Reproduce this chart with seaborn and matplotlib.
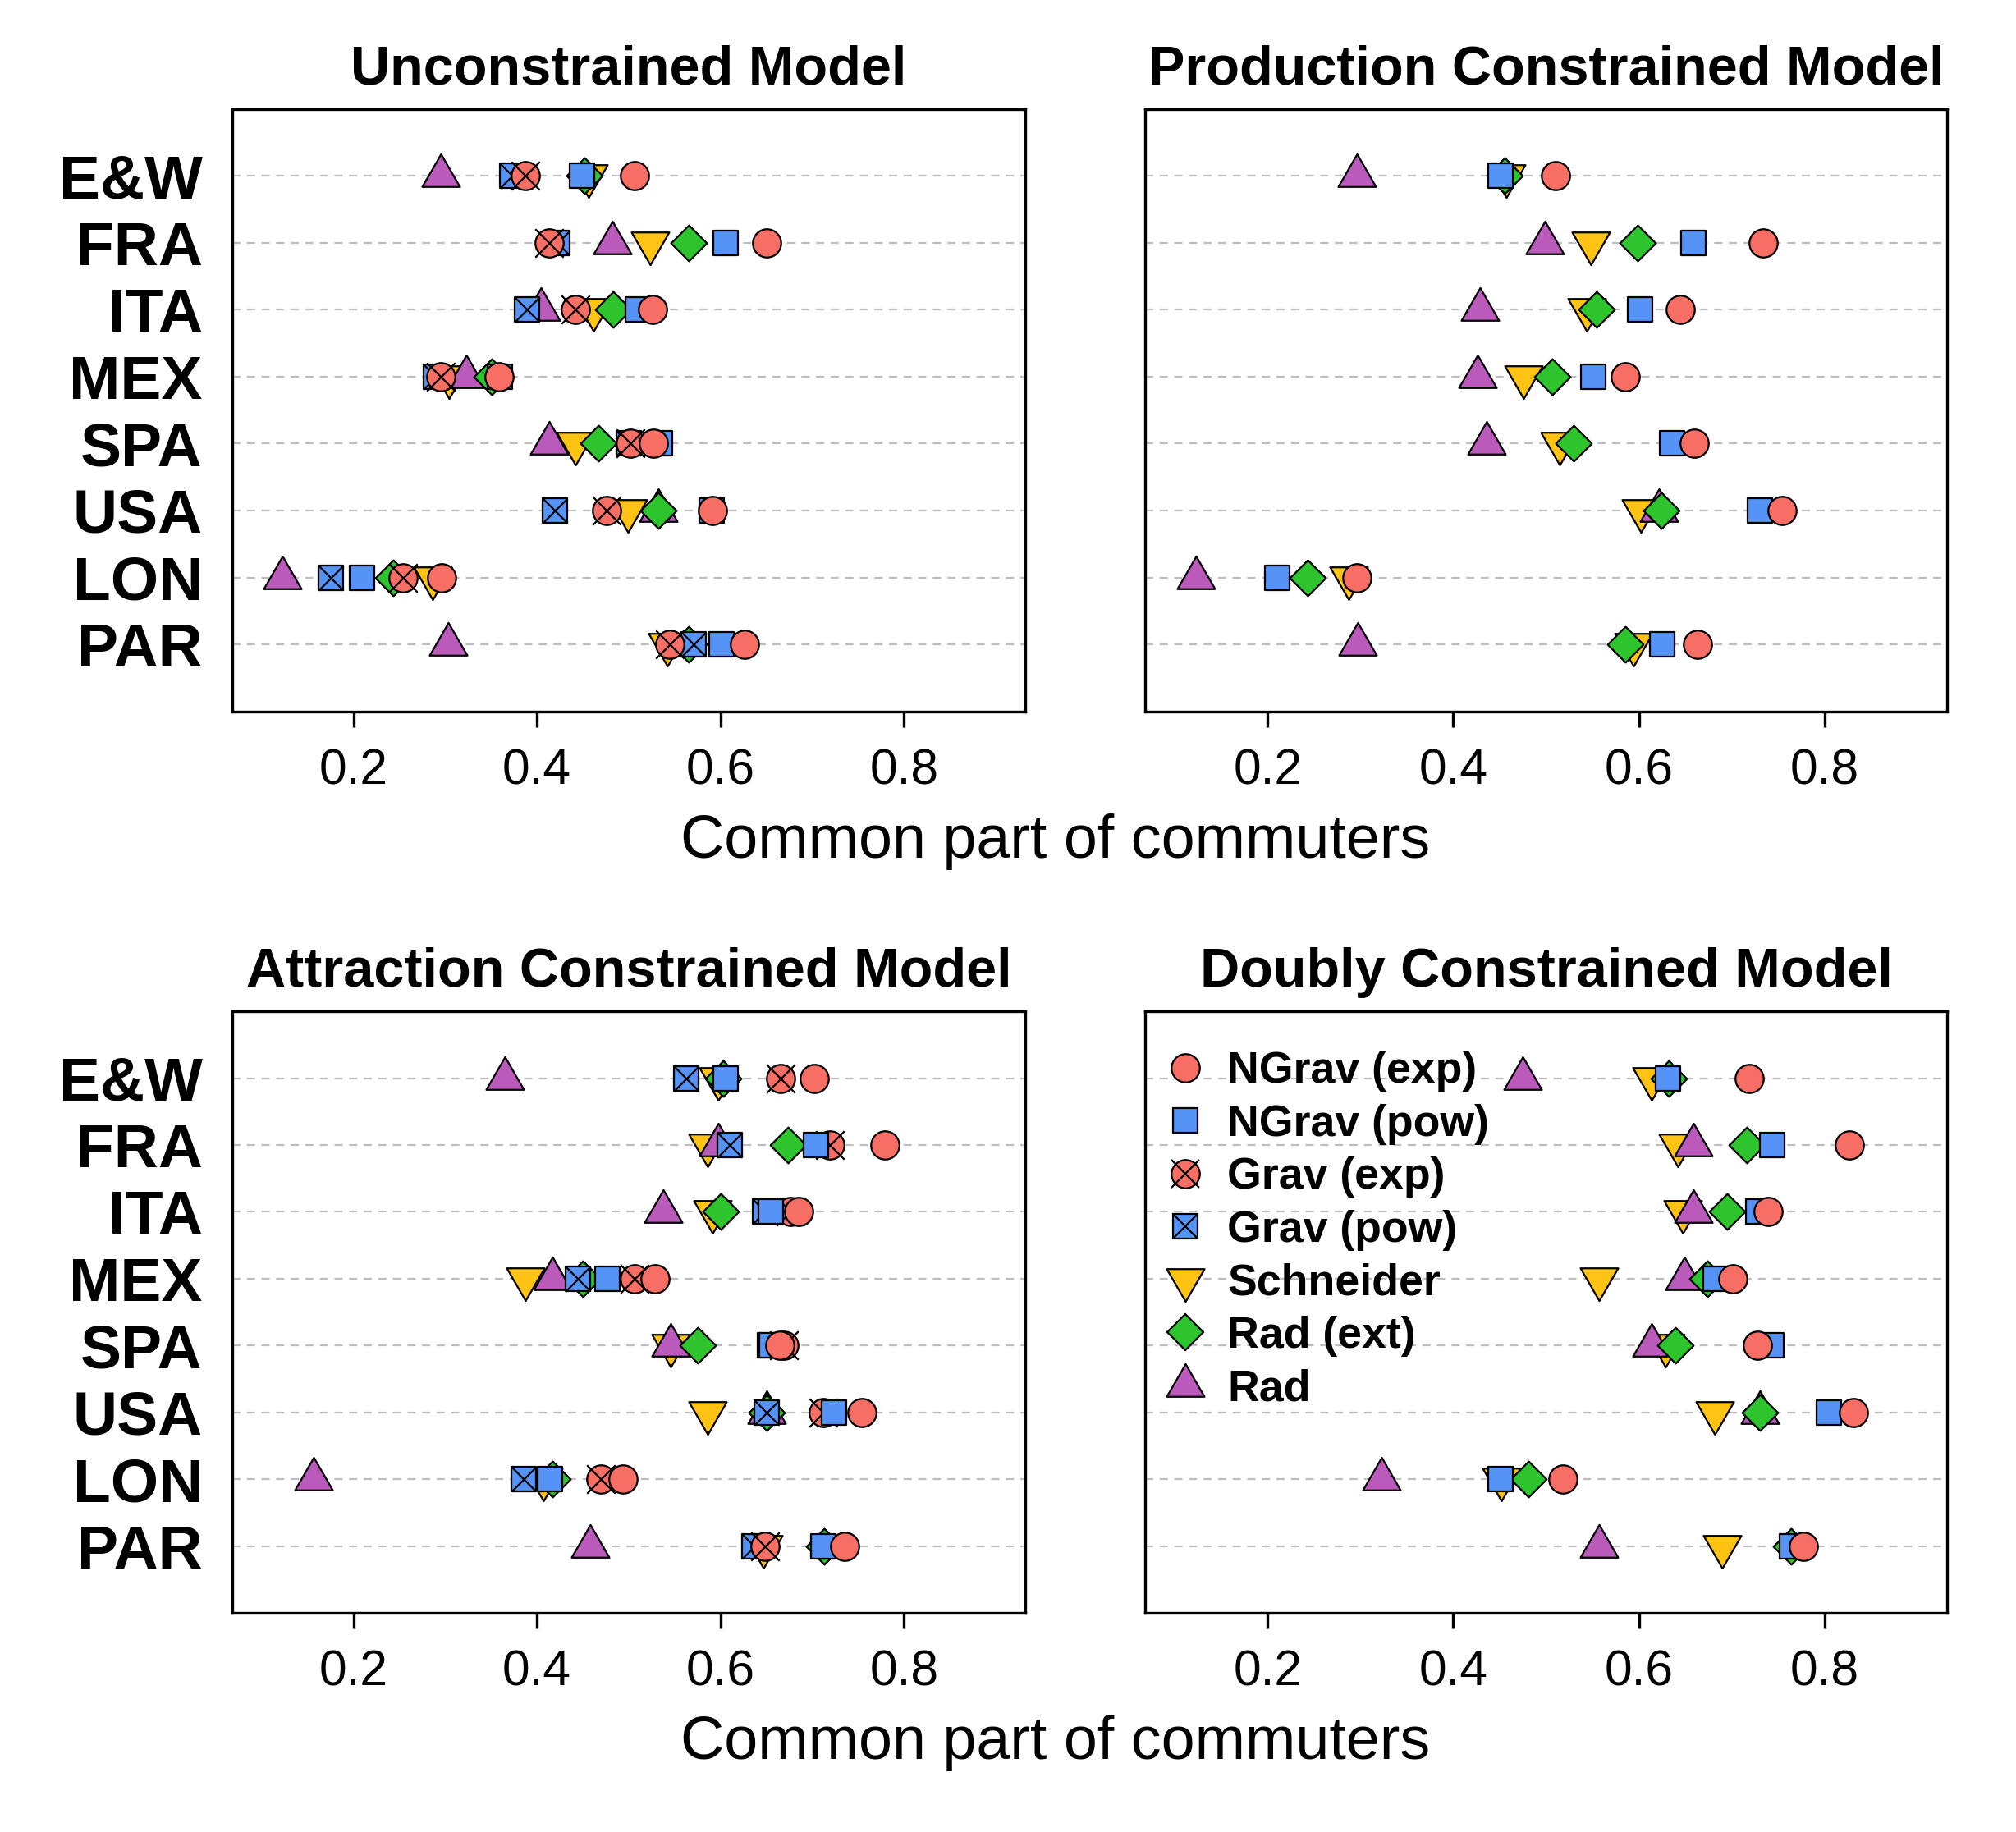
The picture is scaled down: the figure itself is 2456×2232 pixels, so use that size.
import numpy as np
import pandas as pd
import matplotlib
matplotlib.use('Agg')
import matplotlib.pyplot as plt
from matplotlib.markers import MarkerStyle
from matplotlib.path import Path
from matplotlib.lines import Line2D
import seaborn as sns

# data: common part of commuters per region and model
regions = ['E&W', 'FRA', 'ITA', 'MEX', 'SPA', 'USA', 'LON', 'PAR']
models = ['NGrav (exp)', 'NGrav (pow)', 'Grav (exp)', 'Grav (pow)',
          'Schneider', 'Rad (ext)', 'Rad']
titles = ['Unconstrained Model', 'Production Constrained Model',
          'Attraction Constrained Model', 'Doubly Constrained Model']
xticks = [0.2, 0.4, 0.6, 0.8]

unconstrained = {
    'NGrav (exp)': [0.506, 0.650, 0.526, 0.359, 0.527, 0.591, 0.296, 0.626],
    'NGrav (pow)': [0.449, 0.606, 0.510, 0.360, 0.534, 0.590, 0.209, 0.601],
    'Grav (exp)':  [0.387, 0.413, 0.442, 0.295, 0.502, 0.476, 0.254, 0.545],
    'Grav (pow)':  [0.373, 0.422, 0.389, 0.290, 0.500, 0.420, 0.175, 0.571],
    'Schneider':   [0.456, 0.523, 0.462, 0.304, 0.442, 0.499, 0.286, 0.542],
    'Rad (ext)':   [0.452, 0.565, 0.483, 0.351, 0.467, 0.532, 0.243, 0.565],
    'Rad':         [0.295, 0.482, 0.404, 0.323, 0.413, 0.532, 0.123, 0.303],
}
production = {
    'NGrav (exp)': [0.510, 0.734, 0.645, 0.585, 0.660, 0.754, 0.296, 0.663],
    'NGrav (pow)': [0.451, 0.659, 0.601, 0.551, 0.636, 0.730, 0.210, 0.625],
    'Schneider':   [0.457, 0.548, 0.544, 0.476, 0.515, 0.602, 0.287, 0.594],
    'Rad (ext)':   [0.455, 0.599, 0.554, 0.507, 0.530, 0.624, 0.243, 0.585],
    'Rad':         [0.296, 0.499, 0.429, 0.426, 0.436, 0.622, 0.123, 0.297],
}
attraction = {
    'NGrav (exp)': [0.702, 0.779, 0.685, 0.529, 0.665, 0.754, 0.494, 0.735],
    'NGrav (pow)': [0.606, 0.704, 0.655, 0.477, 0.656, 0.724, 0.414, 0.712],
    'Grav (exp)':  [0.666, 0.719, 0.676, 0.506, 0.669, 0.712, 0.470, 0.649],
    'Grav (pow)':  [0.563, 0.610, 0.649, 0.445, 0.654, 0.650, 0.386, 0.637],
    'Schneider':   [0.598, 0.586, 0.591, 0.387, 0.546, 0.586, 0.407, 0.647],
    'Rad (ext)':   [0.603, 0.674, 0.600, 0.450, 0.575, 0.650, 0.417, 0.713],
    'Rad':         [0.365, 0.598, 0.538, 0.417, 0.546, 0.650, 0.157, 0.458],
}
doubly = {
    'NGrav (exp)': [0.719, 0.827, 0.739, 0.701, 0.728, 0.831, 0.518, 0.777],
    'NGrav (pow)': [0.631, 0.744, 0.729, 0.683, 0.743, 0.805, 0.451, 0.765],
    'Schneider':   [0.614, 0.642, 0.647, 0.557, 0.629, 0.682, 0.452, 0.690],
    'Rad (ext)':   [0.632, 0.716, 0.695, 0.674, 0.639, 0.730, 0.481, 0.764],
    'Rad':         [0.475, 0.659, 0.659, 0.649, 0.614, 0.730, 0.323, 0.557],
}
panels = [unconstrained, production, attraction, doubly]

# marker styles (R-like pch 21/22/23/24/25, crossed ones get an x on top)
tri = 1.347, 0.778, 1.555
tri_up = MarkerStyle(Path([(0, tri[2]), (tri[0], -tri[1]), (-tri[0], -tri[1]), (0, tri[2])],
                          closed=True), joinstyle='miter')
tri_dn = MarkerStyle(Path([(0, -tri[2]), (tri[0], tri[1]), (-tri[0], tri[1]), (0, -tri[2])],
                          closed=True), joinstyle='miter')
red, blue = '#F66E64', '#5594F6'
style = {
    'NGrav (exp)': dict(marker='o', s=154, color=red, cross=False),
    'NGrav (pow)': dict(marker='s', s=118, color=blue, cross=False),
    'Grav (exp)':  dict(marker='o', s=154, color=red, cross=True),
    'Grav (pow)':  dict(marker='s', s=118, color=blue, cross=True),
    'Schneider':   dict(marker=tri_dn, s=365, color='#FFC314', cross=False),
    'Rad (ext)':   dict(marker='D', s=124, color='#2EC42E', cross=False),
    'Rad':         dict(marker=tri_up, s=365, color='#BA5ABA', cross=False),
}
draw_order = ['Schneider', 'Rad', 'Rad (ext)', 'Grav (pow)', 'Grav (exp)',
              'NGrav (pow)', 'NGrav (exp)']
lw = 0.8

sns.set_theme(style='white')
plt.rcParams['font.family'] = ['Liberation Sans', 'DejaVu Sans']
for key in ['text.color', 'axes.labelcolor', 'xtick.color', 'ytick.color',
            'axes.edgecolor']:
    plt.rcParams[key] = 'black'

fig = plt.figure(figsize=(12.28, 11.16), dpi=200)
boxes = [[0.1152, 0.6117, 0.3933, 0.3289],
         [0.5680, 0.6117, 0.3978, 0.3289],
         [0.1152, 0.1196, 0.3933, 0.3284],
         [0.5680, 0.1196, 0.3978, 0.3284]]

for k, (data, box) in enumerate(zip(panels, boxes)):
    ax = fig.add_axes(box)
    df = pd.DataFrame(data, index=regions).reset_index(names='region')
    df = df.melt(id_vars='region', var_name='model', value_name='cpc')
    df['pos'] = df['region'].map({r: i for i, r in enumerate(regions)})

    for z, m in enumerate(draw_order):
        if m not in data:
            continue
        st = style[m]
        sub = df[df['model'] == m]
        sns.scatterplot(data=sub, x='cpc', y='pos', marker=st['marker'], s=st['s'],
                        color=st['color'], edgecolor='black', linewidth=lw,
                        zorder=3 + 2 * z, legend=False, ax=ax)
        if st['cross']:
            sns.scatterplot(data=sub, x='cpc', y='pos', marker='x', s=st['s'],
                            color='black', linewidth=lw, zorder=4 + 2 * z,
                            legend=False, ax=ax)

    ax.set_xlim(0.068, 0.932)
    ax.set_ylim(8, -1)
    ax.set_xticks(xticks)
    ax.set_xticklabels([f'{t:.1f}' for t in xticks])
    ax.set_yticks(range(len(regions)))
    ax.set_xlabel('')
    ax.set_ylabel('')
    ax.set_axisbelow(True)
    ax.grid(axis='y', color='#BEBEBE', linewidth=0.8, linestyle=(0, (4.5, 3.5)))
    ax.grid(axis='x', visible=False)
    for sp in ax.spines.values():
        sp.set_visible(True)
        sp.set_linewidth(1.2)
        sp.set_color('black')
    ax.tick_params(axis='x', direction='out', length=7, width=1.2, pad=9,
                   labelsize=21.8, bottom=True, color='black')
    if k % 2 == 0:
        ax.set_yticklabels(regions, fontsize=27, fontweight='bold')
        ax.tick_params(axis='y', length=0, pad=13)
    else:
        ax.tick_params(axis='y', length=0, labelleft=False)
    ax.set_title(titles[k], fontsize=24, fontweight='bold', pad=11)

    if k == 3:
        handles = []
        for m in models:
            st = style[m]
            base = Line2D([], [], linestyle='none', marker=st['marker'],
                          markersize=np.sqrt(st['s']), markerfacecolor=st['color'],
                          markeredgecolor='black', markeredgewidth=lw)
            if st['cross']:
                xl = Line2D([], [], linestyle='none', marker='x',
                            markersize=np.sqrt(st['s']), markeredgecolor='black',
                            markeredgewidth=lw)
                handles.append((base, xl))
            else:
                handles.append(base)
        ax.legend(handles, models, loc='upper left', bbox_to_anchor=(0.023, 0.934),
                  frameon=False, prop=dict(weight='bold', size=19.3),
                  handlelength=1.0, handletextpad=0.45, labelspacing=0.27,
                  borderpad=0, borderaxespad=0)

fig.text(0.5236, 0.5318, 'Common part of commuters', ha='center', va='baseline',
         fontsize=26.5)
fig.text(0.5236, 0.0399, 'Common part of commuters', ha='center', va='baseline',
         fontsize=26.5)

fig.savefig('out.png', dpi=200)
